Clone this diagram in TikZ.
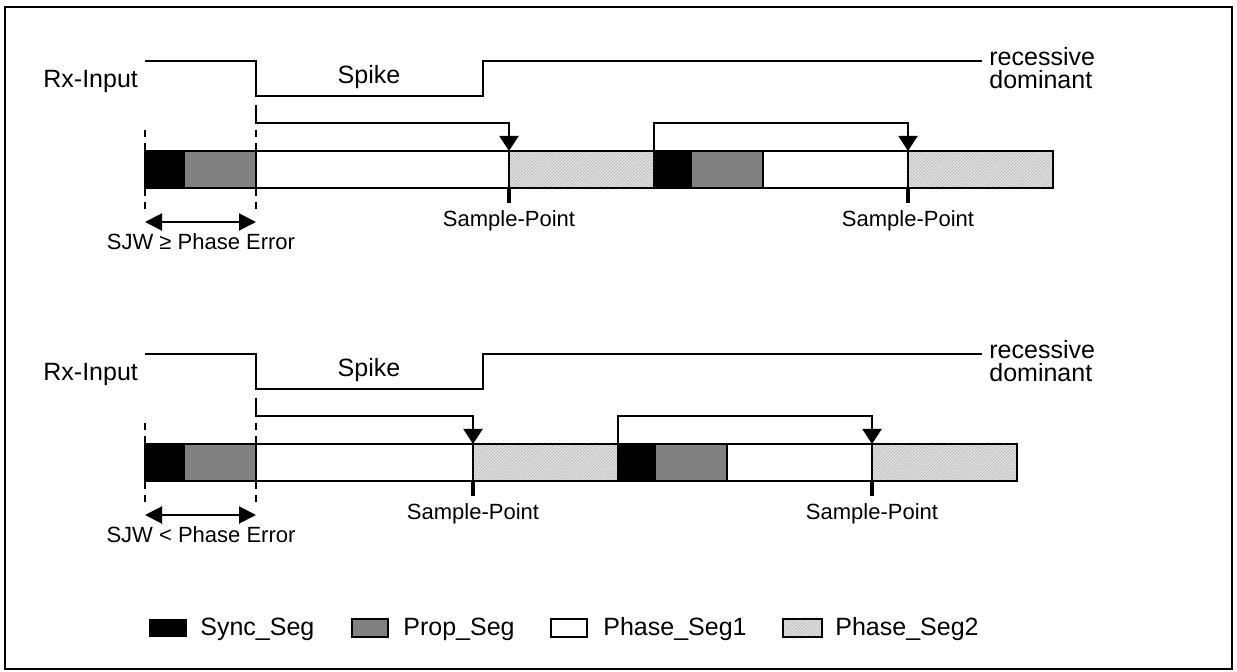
\documentclass[tikz,border=0pt]{standalone}
\usepackage{fontspec}
\setmainfont{Liberation Sans}
\usetikzlibrary{arrows.meta,patterns.meta}
\newcommand\bigtxt{\fontsize{12.5}{15}\selectfont}
\newcommand\smalltxt{\fontsize{11}{13}\selectfont}
\tikzset{
  sig/.style={line width=1pt, line join=miter},
  barline/.style={line width=1.1pt},
  syncfill/.style={fill=black},
  propfill/.style={fill=black!50},
  ps1fill/.style={fill=white},
  ps2fill/.style={fill=black!10, postaction={pattern={Lines[angle=45,distance=1.1pt,line width=0.3pt]}, pattern color=black!30}},
  samplearrow/.style={line width=1pt, -{Triangle[width=9.5pt,length=7.5pt]}},
  sjwarrow/.style={line width=1pt, {Triangle[width=8.5pt,length=8.5pt]}-{Triangle[width=8.5pt,length=8.5pt]}},
  tick/.style={line width=2pt},
  guide/.style={line width=1pt, dash pattern=on 3.5pt off 3pt},
  lbl/.style={inner sep=0pt, font=\bigtxt},
  slbl/.style={inner sep=0pt, font=\smalltxt},
}
% #1 prefix, #2 x of first sample point, #3 SJW text
\newcommand\timingrow[3]{%
  \pgfmathsetmacro\Sa{#2}%
  \pgfmathsetmacro\Bb{#2+145}%
  \pgfmathsetmacro\Bs{#2+182}%
  \pgfmathsetmacro\Bp{#2+254}%
  \pgfmathsetmacro\Sb{#2+399}%
  \pgfmathsetmacro\Be{#2+544}%
  % signal
  \coordinate (#1-s0) at (145,61);
  \coordinate (#1-s1) at (256,61);
  \coordinate (#1-s2) at (256,96);
  \coordinate (#1-s3) at (483,96);
  \coordinate (#1-s4) at (483,61);
  \coordinate (#1-s5) at (982,61);
  \draw[sig] (#1-s0) -- (#1-s1) -- (#1-s2) -- (#1-s3) -- (#1-s4) -- (#1-s5);
  \node[lbl, anchor=base west] (#1-rx) at (43,88) {Rx-Input};
  \node[lbl, anchor=base] (#1-spike) at (369,84) {Spike};
  \node[lbl, anchor=base west] (#1-rec) at (989,66) {recessive};
  \node[lbl, anchor=base west] (#1-dom) at (989,89) {dominant};
  % bar segments
  \fill[syncfill] (145,151) rectangle (184,188);
  \fill[propfill] (184,151) rectangle (256,188);
  \fill[ps1fill] (256,151) rectangle (\Sa,188);
  \fill[ps2fill] (\Sa,151) rectangle (\Bb,188);
  \fill[syncfill] (\Bb,151) rectangle (\Bs,188);
  \fill[propfill] (\Bs,151) rectangle (\Bp,188);
  \fill[ps1fill] (\Bp,151) rectangle (\Sb,188);
  \fill[ps2fill] (\Sb,151) rectangle (\Be,188);
  \draw[barline] (145,151) rectangle (\Be,188);
  \foreach \xx in {184,256,\Sa,\Bb,\Bs,\Bp,\Sb}{\draw[barline] (\xx,151) -- (\xx,188);}
  % brackets to sample points
  \coordinate (#1-a0) at (256,105);
  \coordinate (#1-a1) at (256,123);
  \coordinate (#1-a2) at (\Sa,123);
  \coordinate (#1-sp1) at (\Sa,151);
  \draw[samplearrow] (#1-a0) -- (#1-a1) -- (#1-a2) -- (#1-sp1);
  \coordinate (#1-b0) at (\Bb,151);
  \coordinate (#1-b1) at (\Bb,123);
  \coordinate (#1-b2) at (\Sb,123);
  \coordinate (#1-sp2) at (\Sb,151);
  \draw[samplearrow] (#1-b0) -- (#1-b1) -- (#1-b2) -- (#1-sp2);
  % sample point ticks and labels
  \draw[tick] (\Sa,188) -- (\Sa,203);
  \draw[tick] (\Sb,188) -- (\Sb,203);
  \node[slbl, anchor=base] (#1-spl1) at (\Sa,227) {Sample-Point};
  \node[slbl, anchor=base] (#1-spl2) at (\Sb,227) {Sample-Point};
  % guides
  \foreach \xx in {145,256}{
    \draw[guide] (\xx,130) -- (\xx,151);
    \draw[guide] (\xx,189) -- (\xx,210);
  }
  \coordinate (#1-w0) at (145,222);
  \coordinate (#1-w1) at (256,222);
  \draw[sjwarrow] (#1-w0) -- (#1-w1);
  \node[slbl, anchor=base] (#1-sjw) at (201,250) {#3};
}
\begin{document}
\begin{tikzpicture}[x=0.5pt,y=-0.5pt]
\useasboundingbox (0,0) rectangle (1237,672);
\fill[white] (0,0) rectangle (1237,672);
\draw[line width=1.1pt] (5,7) rectangle (1232,669);
\begin{scope}
  \timingrow{top}{509}{SJW ≥ Phase Error}
\end{scope}
\begin{scope}[shift={(0,293)}]
  \timingrow{bot}{473}{SJW < Phase Error}
\end{scope}
% legend
\fill[syncfill] (149,619) rectangle (187,637);
\node[lbl, anchor=base west] (lg1) at (200,636) {Sync\_Seg};
\filldraw[propfill, draw=black, line width=1pt] (352,619) rectangle (388,637);
\node[lbl, anchor=base west] (lg2) at (403,636) {Prop\_Seg};
\filldraw[ps1fill, draw=black, line width=1pt] (551,619) rectangle (587,637);
\node[lbl, anchor=base west] (lg3) at (603,636) {Phase\_Seg1};
\fill[ps2fill] (783,619) rectangle (822,637);
\draw[line width=1pt] (783,619) rectangle (822,637);
\node[lbl, anchor=base west] (lg4) at (835,636) {Phase\_Seg2};
\end{tikzpicture}
\end{document}
